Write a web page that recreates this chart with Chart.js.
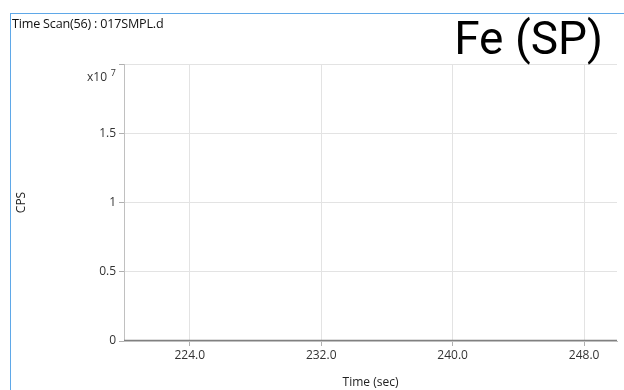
<!DOCTYPE html>
<html><head><meta charset="utf-8">
<script src="https://cdn.jsdelivr.net/npm/chart.js@4/dist/chart.umd.min.js"></script>
<style>
html,body{margin:0;padding:0;background:#fff;}
#wrap{position:relative;width:624px;height:390px;overflow:hidden;}
#frame{position:absolute;left:10px;top:13px;width:620px;height:390px;border-left:1.5px solid #5fa8e8;border-top:1.5px solid #5fa8e8;box-sizing:border-box;}
#sub{position:absolute;left:12px;top:15px;font:12.6px "Open Sans","Noto Sans",sans-serif;color:#111;letter-spacing:-0.2px;}
#ttl{position:absolute;right:21px;top:10px;font:46px Roboto,sans-serif;color:#000;line-height:56px;}
canvas{position:absolute;left:0;top:0;}
</style></head>
<body><div id="wrap">
<div id="frame"></div>
<canvas id="c" width="624" height="390"></canvas>
<div id="sub">Time Scan(56) : 017SMPL.d</div>
<div id="ttl">Fe (SP)</div>
</div>
<script>
const times = [220,221,222,223,224,225,226,227,228,229,230,231,232,233,234,235,236,237,238,239,240,241,242,243,244,245,246,247,248,249,250];
const cps = [21000,19000,22000,20000,18000,23000,21000,20000,19000,22000,20000,21000,18000,20000,22000,19000,21000,20000,23000,19000,20000,21000,22000,18000,20000,21000,19000,22000,20000,21000,20000];
const xTicks = [224,232,240,248];
const yTicks = [0,5e6,1e7,1.5e7,2e7];
const expBase = "x10";
const expPower = "7";
const title = "Fe (SP)";
const subtitle = "Time Scan(56) : 017SMPL.d";

const fam = '"Open Sans","Noto Sans",sans-serif';
const font = {family:fam, size:12};
const expPlugin = {
  id:'expLabel',
  afterDraw(chart){
    const y = chart.scales.y, ctx = chart.ctx;
    const py = y.getPixelForValue(yTicks[yTicks.length-1]);
    ctx.save();
    ctx.fillStyle = '#333';
    ctx.textBaseline = 'middle';
    ctx.textAlign = 'right';
    ctx.font = '9px ' + fam;
    ctx.fillText(expPower, y.right - 8, py + 9);
    ctx.font = '12px ' + fam;
    ctx.fillText(expBase, y.right - 17, py + 14);
    ctx.restore();
  }
};
new Chart(document.getElementById('c'), {
  type:'line',
  data:{datasets:[{data:times.map((t,i)=>({x:t,y:cps[i]})), borderColor:'#808080', borderWidth:2, pointRadius:0, tension:0}]},
  options:{
    responsive:false, animation:false,
    layout:{padding:{left:0,top:64,right:7,bottom:0}},
    plugins:{legend:{display:false},tooltip:{enabled:false}},
    scales:{
      x:{type:'linear',min:220,max:250,
        afterBuildTicks:s=>{s.ticks=xTicks.map(v=>({value:v}));},
        afterFit:s=>{s.height=49;},
        ticks:{color:'#333',font,padding:2,maxRotation:0,callback:v=>v.toFixed(1)},
        grid:{color:'#e3e3e3',tickLength:5,tickColor:'#b0b0b0'},
        border:{color:'#c0c0c0'},
        title:{display:true,text:'Time (sec)',color:'#222',font,padding:{top:4,bottom:0}}
      },
      y:{min:0,max:2e7,
        afterBuildTicks:s=>{s.ticks=yTicks.map(v=>({value:v}));},
        afterFit:s=>{s.width=124;},
        ticks:{color:'#333',font,padding:3,callback:v=>v>=2e7?'':String(v/1e7)},
        grid:{color:'#e3e3e3',tickLength:5,tickColor:'#b0b0b0'},
        border:{color:'#c0c0c0'},
        title:{display:true,text:'CPS',color:'#222',font,padding:{top:14,bottom:0}}
      }
    }
  },
  plugins:[expPlugin]
});
</script>
</body></html>
